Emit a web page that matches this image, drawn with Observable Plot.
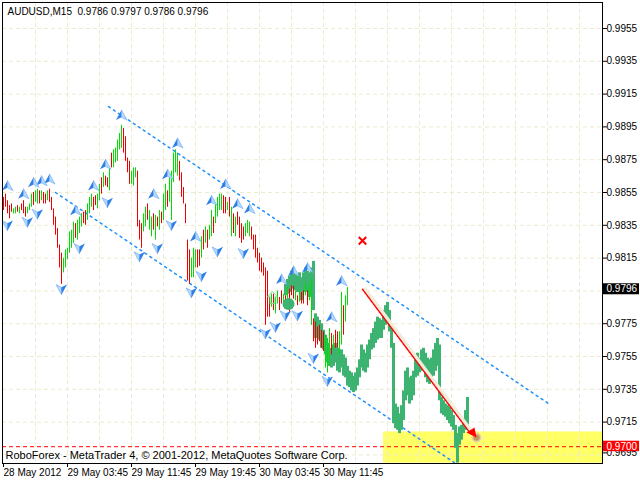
<!DOCTYPE html>
<html><head><meta charset="utf-8">
<script src="https://cdn.jsdelivr.net/npm/d3@7"></script>
<script src="https://cdn.jsdelivr.net/npm/@observablehq/plot@0.6"></script>
<style>
body{margin:0;background:#fff;}
#chart svg{display:block;}
#chart svg text{white-space:pre;}
</style>
</head><body><div id="chart"></div>
<script>
// ---------- data ----------
const symbolName = "AUDUSD,M15";
const headerOHLC = [0.9786, 0.9797, 0.9786, 0.9796];
const copyrightText = "RoboForex - MetaTrader 4, \u00a9 2001-2012, MetaQuotes Software Corp.";

// M15 bars (index 0 = 28 May 2012 19:45)
const barHigh = [
0.9852,0.9854,0.9850,0.9847,0.9848,0.9845,0.9846,0.9847,0.9846,0.9848,
0.9850,0.9846,0.9846,0.9848,0.9854,0.9855,0.9856,0.9857,0.9856,0.9856,
0.9855,0.9854,0.9856,0.9857,0.9852,0.9845,0.9840,0.9833,0.9823,0.9818,
0.9815,0.9820,0.9821,0.9831,0.9832,0.9837,0.9836,0.9838,0.9840,0.9842,
0.9843,0.9844,0.9848,0.9852,0.9854,0.9852,0.9853,0.9854,0.9860,0.9864,
0.9867,0.9865,0.9864,0.9870,0.9879,0.9881,0.9882,0.9887,0.9891,0.9896,
0.9894,0.9889,0.9876,0.9874,0.9868,0.9870,0.9870,0.9868,0.9838,0.9836,
0.9842,0.9846,0.9848,0.9844,0.9840,0.9842,0.9841,0.9840,0.9844,0.9843,
0.9854,0.9860,0.9856,0.9864,0.9868,0.9879,0.9881,0.9879,0.9874,0.9867,
0.9858,0.9848,0.9826,0.9820,0.9815,0.9821,0.9820,0.9820,0.9820,0.9828,
0.9832,0.9834,0.9832,0.9835,0.9844,0.9840,0.9848,0.9852,0.9854,0.9854,
0.9853,0.9852,0.9849,0.9852,0.9846,0.9842,0.9840,0.9843,0.9840,0.9836,
0.9834,0.9836,0.9838,0.9837,0.9834,0.9829,0.9829,0.9821,0.9818,0.9815,
0.9812,0.9809,0.9807,0.9791,0.9793,0.9793,0.9791,0.9795,0.9791,0.9795,
0.9793,0.9792,0.9797,0.9796,0.9798,0.9798,0.9795,0.9792,0.9795,0.9794,
0.9795,0.9800,0.9795,0.9798,0.9802,0.9778,0.9776,0.9773,0.9774,0.9771,
0.9770,0.9768,0.9766,0.9772,0.9769,0.9768,0.9771,0.9770,0.9770,0.9794,
0.9786,0.9792,0.9797];
const barLow = [
0.9844,0.9846,0.9842,0.9839,0.9843,0.9842,0.9842,0.9843,0.9842,0.9844,
0.9842,0.9840,0.9842,0.9844,0.9846,0.9847,0.9849,0.9848,0.9848,0.9850,
0.9848,0.9848,0.9850,0.9849,0.9844,0.9835,0.9829,0.9821,0.9809,0.9799,
0.9806,0.9809,0.9814,0.9818,0.9821,0.9824,0.9827,0.9826,0.9830,0.9834,
0.9836,0.9835,0.9838,0.9842,0.9846,0.9844,0.9847,0.9845,0.9850,0.9854,
0.9858,0.9859,0.9858,0.9856,0.9870,0.9870,0.9873,0.9874,0.9881,0.9882,
0.9879,0.9874,0.9867,0.9860,0.9860,0.9859,0.9864,0.9834,0.9826,0.9821,
0.9831,0.9834,0.9838,0.9832,0.9828,0.9832,0.9826,0.9834,0.9832,0.9836,
0.9838,0.9844,0.9846,0.9849,0.9838,0.9861,0.9867,0.9865,0.9862,0.9852,
0.9848,0.9836,0.9801,0.9799,0.9803,0.9803,0.9809,0.9809,0.9810,0.9815,
0.9820,0.9824,0.9821,0.9826,0.9828,0.9830,0.9836,0.9840,0.9844,0.9844,
0.9842,0.9842,0.9844,0.9840,0.9828,0.9830,0.9828,0.9835,0.9827,0.9824,
0.9826,0.9828,0.9830,0.9828,0.9826,0.9820,0.9815,0.9812,0.9807,0.9806,
0.9804,0.9774,0.9779,0.9779,0.9785,0.9783,0.9781,0.9787,0.9783,0.9787,
0.9785,0.9786,0.9790,0.9782,0.9792,0.9790,0.9789,0.9786,0.9788,0.9787,
0.9787,0.9792,0.9786,0.9789,0.9774,0.9764,0.9760,0.9762,0.9764,0.9760,
0.9758,0.9748,0.9745,0.9749,0.9756,0.9759,0.9760,0.9760,0.9756,0.9762,
0.9768,0.9776,0.9786];
const barUp = [
0,0,0,0,0,1,1,0,1,0, 0,0,1,1,1,0,1,1,0,1, 0,0,1,0,0,0,0,0,0,0,
1,1,1,1,1,1,0,1,1,1, 0,0,1,1,1,0,0,1,1,0, 1,0,0,1,0,1,1,1,1,1,
0,0,0,0,1,1,1,0,0,0, 1,1,0,1,1,0,1,0,1,0, 1,1,0,1,1,1,1,1,0,0,
0,0,0,0,1,1,1,0,0,1, 0,1,0,1,1,0,1,1,1,1, 0,0,1,0,1,0,1,0,0,0,
0,1,1,1,0,0,0,0,0,0, 0,0,0,0,1,0,1,1,0,0, 1,0,1,0,0,0,1,0,1,0,
0,1,0,1,1,0,0,0,0,0, 0,1,1,1,0,1,0,0,1,1, 0,1,1];

// later price overlay (thick green), starting at bar index 141
const overlayStart = 141;
const overlayHigh = [
0.9799,0.9802,0.9804,0.9807,0.9809,0.9806,0.9804,0.9806,0.9803,0.9806,
0.9809,0.9807,0.9806,0.9809,0.9813,0.9781,0.9779,0.9777,0.9775,0.9771,
0.9768,0.9763,0.9760,0.9759,0.9762,0.9763,0.9760,0.9759,0.9759,0.9756,
0.9754,0.9749,0.9746,0.9745,0.9743,0.9745,0.9748,0.9753,0.9762,0.9759,
0.9757,0.9762,0.9765,0.9769,0.9772,0.9776,0.9779,0.9778,0.9777,0.9783,
0.9786,0.9788,0.9783,0.9775,0.9763,0.9726,0.9724,0.9720,0.9725,0.9734,
0.9746,0.9748,0.9742,0.9743,0.9746,0.9756,0.9757,0.9754,0.9759,0.9760,
0.9757,0.9754,0.9753,0.9754,0.9759,0.9763,0.9766,0.9762,0.9730,0.9728,
0.9726,0.9725,0.9724,0.9722,0.9719,0.9713,0.9708,0.9712,0.9713,0.9717,
0.9722,0.9730];
const overlayLow = [
0.9792,0.9793,0.9794,0.9796,0.9798,0.9795,0.9794,0.9794,0.9789,0.9794,
0.9796,0.9794,0.9791,0.9792,0.9783,0.9766,0.9768,0.9765,0.9760,0.9759,
0.9756,0.9751,0.9749,0.9748,0.9749,0.9751,0.9746,0.9745,0.9748,0.9743,
0.9742,0.9737,0.9736,0.9734,0.9733,0.9734,0.9737,0.9742,0.9748,0.9746,
0.9745,0.9748,0.9753,0.9759,0.9760,0.9763,0.9765,0.9766,0.9766,0.9771,
0.9774,0.9775,0.9770,0.9760,0.9714,0.9711,0.9710,0.9708,0.9710,0.9716,
0.9728,0.9731,0.9726,0.9728,0.9731,0.9742,0.9743,0.9745,0.9746,0.9748,
0.9742,0.9739,0.9738,0.9740,0.9743,0.9746,0.9749,0.9728,0.9720,0.9719,
0.9718,0.9716,0.9714,0.9712,0.9710,0.9699,0.9690,0.9701,0.9704,0.9708,
0.9710,0.9713];

// fractals
const fractalUpIndex = [2,10,15,19,23,36,45,51,59,75,82,87,96,104,111,117,123,139,145,152,164,169];
const fractalUpPrice = [0.9859,0.9854,0.9861,0.9862,0.9863,0.9844,0.9859,0.9872,0.9902,0.9854,0.9866,0.9885,0.9828,0.9850,0.9860,0.9848,0.9845,0.9802,0.9807,0.9809,0.9779,0.9801];
const fractalDownIndex = [2,12,17,29,38,52,68,77,84,94,99,107,120,131,136,141,147,155,162];
const fractalDownPrice = [0.9835,0.9837,0.9842,0.9796,0.9821,0.9849,0.9816,0.9821,0.9835,0.9794,0.9804,0.9819,0.9818,0.9769,0.9773,0.9780,0.9780,0.9754,0.9740];

// channel lines & objects
const upperChannelIndex = [52.5, 272.5];
const upperChannelPrice = [0.99074, 0.97263];
const lowerChannelIndex = [26, 226];
const lowerChannelPrice = [0.9855, 0.96898];
const forecastIndex = [179.5, 233.5];
const forecastPrice = [0.9796, 0.9708];
const arrowHeadIndex = 234, arrowHeadPrice = 0.97087;
const ballIndex = 236.5, ballPrice = 0.97056;
const crossIndex = 179.5, crossPrice = 0.98256;
const greenDotIndex = 142.5, greenDotPrice = 0.9787;
const buyMarkIndex = 134.5, buyMarkPrice = 0.9791;
const zoneIndex = [190, 299.5];
const zonePrice = [0.9690, 0.9709];
const levelPrice = 0.9700;
const bidPrice = 0.9796;

// axes
const priceTicks = [0.9955,0.9935,0.9915,0.9895,0.9875,0.9855,0.9835,0.9815,0.9775,0.9755,0.9735,0.9715];
const bottomPriceTick = 0.9695;
const gridPrices = [0.9955,0.9935,0.9915,0.9895,0.9875,0.9855,0.9835,0.9815,0.9795,0.9775,0.9755,0.9735,0.9715,0.9695];
const timeTickIndex = [0,32,64,96,128,160];
const timeTickLabels = ["28 May 2012","29 May 03:45","29 May 11:45","29 May 19:45","30 May 03:45","30 May 11:45"];
const xDomain = [-0.5, 299.5];
const yDomain = [0.968976, 0.997085];

// ---------- build ----------
const bars = barHigh.map((h,i)=>({i, hi:h, lo:barLow[i], up:barUp[i]}));
const overlay = overlayHigh.map((h,k)=>({i:overlayStart+k, hi:h, lo:overlayLow[k]}));
const fUp = fractalUpIndex.map((i,k)=>({i, p:fractalUpPrice[k]}));
const fDn = fractalDownIndex.map((i,k)=>({i, p:fractalDownPrice[k]}));
const upperLine = upperChannelIndex.map((i,k)=>({i, p:upperChannelPrice[k]}));
const lowerLine = lowerChannelIndex.map((i,k)=>({i, p:lowerChannelPrice[k]}));
const forecast = forecastIndex.map((i,k)=>({i, p:forecastPrice[k]}));
const gridIdx = d3.range(16, 300, 16);

const sym = pts => ({draw(ctx, size){const r=Math.sqrt(size/Math.PI); ctx.moveTo(pts[0][0]*r, pts[0][1]*r); for (let k=1;k<pts.length;k++) ctx.lineTo(pts[k][0]*r, pts[k][1]*r); ctx.closePath();}});
const upLeft = sym([[0,-1],[0,0.35],[-1,0.85]]);
const upRight = sym([[0,-1],[1,0.85],[0,0.35]]);
const dnLeft = sym([[0,1],[0,-0.35],[-1,-0.85]]);
const dnRight = sym([[0,1],[1,-0.85],[0,-0.35]]);
const arrowHead = sym([[-1,0],[0.6,-1],[1,1]]);
const buySym = sym([[0,-1],[0.8,-0.1],[0.4,-0.1],[0.4,1],[-0.4,1],[-0.4,-0.1],[-0.8,-0.1]]);

const gridColor = "#eeead0";
const blue = "#1e90ff";
const upColor = "#00dd00", downColor = "#ee0000", ovColor = "#3cb371";

const chart = Plot.plot({
  width: 640, height: 480,
  marginLeft: 2, marginRight: 38, marginTop: 2, marginBottom: 17,
  x: {type:"linear", domain:xDomain, axis:null, label:null},
  y: {type:"linear", domain:yDomain, axis:null, label:null},
  style: {fontFamily:"'Liberation Sans', Arial, sans-serif", fontSize:"10px", background:"white", color:"black"},
  marks: [
    Plot.rect([0], {x1:zoneIndex[0], x2:zoneIndex[1], y1:zonePrice[0], y2:zonePrice[1], fill:"#ffff66"}),
    Plot.ruleY(gridPrices, {stroke:gridColor, strokeDasharray:"4,3"}),
    Plot.ruleX(gridIdx, {stroke:gridColor, strokeDasharray:"4,3"}),
    Plot.ruleY([levelPrice], {stroke:"red", strokeDasharray:"4,3"}),
    Plot.line(upperLine, {x:"i", y:"p", stroke:blue, strokeDasharray:"2,4"}),
    Plot.line(lowerLine, {x:"i", y:"p", stroke:blue, strokeDasharray:"2,4"}),
    Plot.ruleX(overlay, {x:"i", y1:"lo", y2:"hi", stroke:ovColor, strokeWidth:3}),
    Plot.ruleX(bars.filter(d=>d.up), {x:"i", y1:"lo", y2:"hi", stroke:upColor}),
    Plot.ruleX(bars.filter(d=>!d.up), {x:"i", y1:"lo", y2:"hi", stroke:downColor}),
    Plot.dot(fUp, {x:"i", y:"p", r:5.5, symbol:upLeft, fill:"#2f7fe8", stroke:"none"}),
    Plot.dot(fUp, {x:"i", y:"p", r:5.5, symbol:upRight, fill:"#b4d8ff", stroke:"#6aa8f0", strokeWidth:0.6}),
    Plot.dot(fDn, {x:"i", y:"p", r:5.5, symbol:dnLeft, fill:"#b4d8ff", stroke:"#6aa8f0", strokeWidth:0.6}),
    Plot.dot(fDn, {x:"i", y:"p", r:5.5, symbol:dnRight, fill:"#2f7fe8", stroke:"none"}),
    Plot.line(forecast, {x:"i", y:"p", stroke:"#f1ecdc", strokeWidth:4, dx:2.5}),
    Plot.line(forecast, {x:"i", y:"p", stroke:"red", strokeDasharray:"1,1"}),
    Plot.dot([0], {x:ballIndex, y:ballPrice, r:5, fill:"#e4d2aa", stroke:"none"}),
    Plot.dot([0], {x:ballIndex, y:ballPrice, r:3.2, fill:"#c49a5c", stroke:"none"}),
    Plot.dot([0], {x:arrowHeadIndex, y:arrowHeadPrice, r:5, symbol:arrowHead, fill:"red", stroke:"none"}),
    Plot.dot([0], {x:crossIndex, y:crossPrice, r:3.5, symbol:"times", stroke:"red", strokeWidth:2}),
    Plot.dot([0], {x:greenDotIndex, y:greenDotPrice, r:6, fill:ovColor, stroke:"none"}),
    Plot.dot([0], {x:buyMarkIndex, y:buyMarkPrice, r:6, symbol:buySym, fill:"none", stroke:"#7bd88f", strokeWidth:1}),
    Plot.frame({stroke:"black"}),
    Plot.axisY(priceTicks, {anchor:"right", label:null, tickSize:4, tickPadding:0, tickFormat:d=>d.toFixed(4)}),
    Plot.axisY([bottomPriceTick], {anchor:"right", label:null, tickSize:4, tickPadding:0, tickFormat:d=>d.toFixed(4), dy:-2}),
    Plot.axisX(timeTickIndex, {anchor:"bottom", label:null, tickSize:4, tickPadding:1, textAnchor:"start", tickFormat:d=>timeTickLabels[timeTickIndex.indexOf(d)]}),
    Plot.rect([bidPrice], {x1:300, x2:318, y1:d=>d, y2:d=>d, insetTop:-5.5, insetBottom:-5.5, fill:"black"}),
    Plot.text([bidPrice], {x:300, y:d=>d, dx:3, text:d=>d.toFixed(4), fill:"white", textAnchor:"start"}),
    Plot.rect([levelPrice], {x1:300, x2:318, y1:d=>d, y2:d=>d, insetTop:-5.5, insetBottom:-5, fill:"red"}),
    Plot.text([levelPrice], {x:300, y:d=>d, dx:3, text:d=>d.toFixed(4), fill:"white", textAnchor:"start"}),
    Plot.text([`${symbolName}\u00a0\u00a0${headerOHLC.map(v=>v.toFixed(4)).join(" ")}`], {frameAnchor:"top-left", dx:5, dy:9, lineAnchor:"middle", textAnchor:"start", fill:"black"}),
    Plot.text([copyrightText], {frameAnchor:"bottom-left", dx:3, dy:-8, lineAnchor:"middle", textAnchor:"start", fontSize:11, fill:"black"})
  ]
});
document.getElementById("chart").appendChild(chart);
</script>
</body></html>
